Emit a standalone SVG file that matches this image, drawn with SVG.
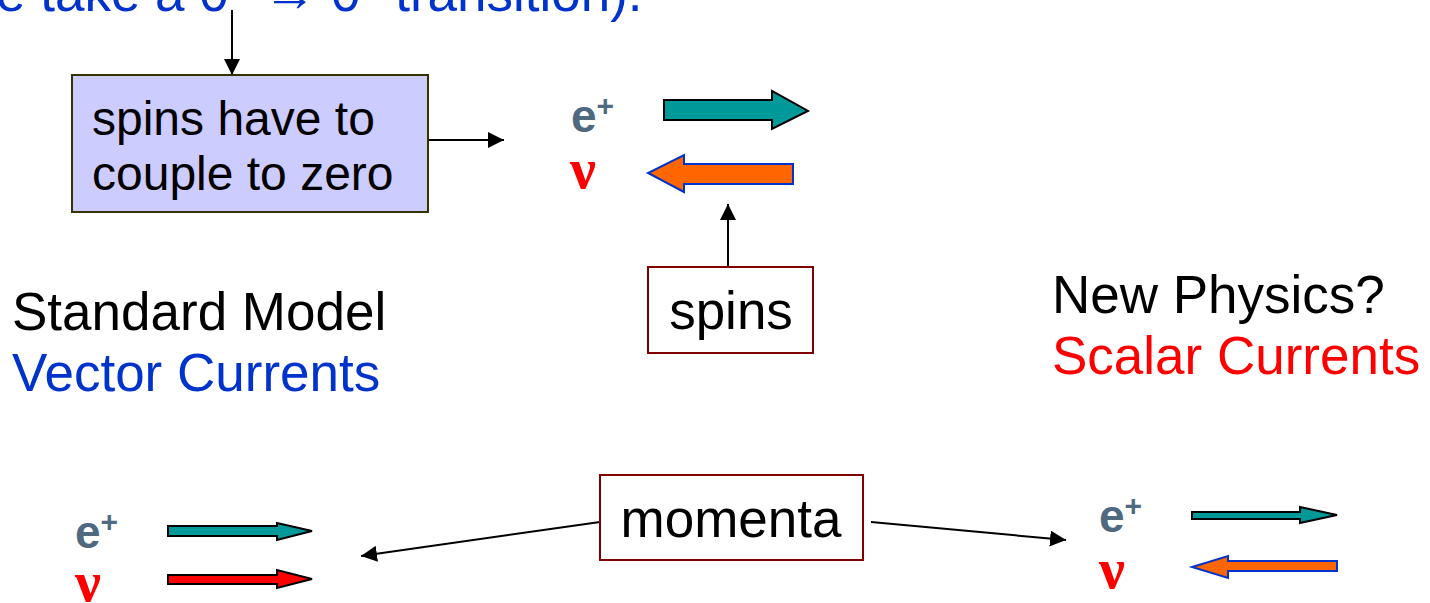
<svg xmlns="http://www.w3.org/2000/svg" width="1430" height="603" viewBox="0 0 1430 603">
<defs>
<style>
.box{font-family:"Liberation Sans",Arial,sans-serif;font-size:48px;fill:#000;}
.big{font-family:"Liberation Sans",Arial,sans-serif;font-size:53px;}
.ep{font-family:"Liberation Sans",Arial,sans-serif;font-weight:bold;fill:#4F6A7F;}
.nu{font-family:"Liberation Serif","Times New Roman",serif;font-weight:bold;fill:#FF0000;}
.conn{stroke:#000;stroke-width:2;fill:none;}
.teal{fill:#009999;stroke:#000;stroke-width:2;}
.orange{fill:#FF6600;stroke:#0033CC;stroke-width:2;}
.red{fill:#FF0000;stroke:#000;stroke-width:2;}
</style>
<marker id="ahb" viewBox="0 0 10 10" refX="10" refY="5" markerWidth="16" markerHeight="16" markerUnits="userSpaceOnUse" orient="auto">
<path d="M0,0 L10,5 L0,10 Z" fill="#000"/>
</marker>
</defs>

<text class="big" x="-4" y="11" fill="#0033CC">e take a 0<tspan dy="-22" font-size="34">+</tspan><tspan dy="22"> → 0</tspan><tspan dy="-22" font-size="34">+</tspan><tspan dy="22"> transition).</tspan></text>

<g id="connectors">
<line class="conn" x1="232" y1="10" x2="232" y2="75" marker-end="url(#ahb)"/>
<line class="conn" x1="425" y1="140" x2="504" y2="140" marker-end="url(#ahb)"/>
<line class="conn" x1="728" y1="267" x2="728" y2="204" marker-end="url(#ahb)"/>
<line class="conn" x1="600" y1="522" x2="361" y2="556" marker-end="url(#ahb)"/>
<line class="conn" x1="871" y1="522" x2="1066" y2="540" marker-end="url(#ahb)"/>
</g>

<g id="node-couple">
<rect x="72" y="75" width="356" height="137" fill="#CCCCFF" stroke="#333300" stroke-width="2"/>
<text class="box" x="92" y="135">spins have to</text>
<text class="box" x="92" y="190">couple to zero</text>
</g>

<g id="node-spins">
<rect x="648" y="267" width="165" height="86" fill="#FFFFFF" stroke="#800000" stroke-width="2"/>
<text class="big" x="731" y="329" text-anchor="middle" fill="#000">spins</text>
</g>

<g id="node-momenta">
<rect x="600" y="475" width="263" height="85" fill="#FFFFFF" stroke="#800000" stroke-width="2"/>
<text class="big" x="731" y="537" text-anchor="middle" fill="#000">momenta</text>
</g>

<g id="label-sm">
<text class="big" x="12" y="330" fill="#000">Standard Model</text>
<text class="big" x="12" y="391" fill="#0033CC">Vector Currents</text>
</g>

<g id="label-np">
<text class="big" x="1052" y="313" fill="#000">New Physics?</text>
<text class="big" x="1052" y="374" fill="#FF0000">Scalar Currents</text>
</g>

<g id="top-particles">
<text class="ep" x="571" y="132" font-size="46">e<tspan dy="-16" font-size="30">+</tspan></text>
<text class="nu" x="570" y="188" font-size="58">ν</text>
<path class="teal" d="M664,100 L772,100 L772,91 L808,111 L772,129 L772,120 L664,120 Z"/>
<path class="orange" d="M793,164 L684,164 L684,155 L648,173 L684,192 L684,184 L793,184 Z"/>
</g>

<g id="bottom-left-particles">
<text class="ep" x="75" y="548" font-size="46">e<tspan dy="-16" font-size="30">+</tspan></text>
<text class="nu" x="75" y="601" font-size="58">ν</text>
<path class="teal" d="M168,526 L277,526 L277,523 L312,531 L277,540 L277,536 L168,536 Z"/>
<path class="red" d="M168,575 L277,575 L277,570 L312,579 L277,588 L277,584 L168,584 Z"/>
</g>

<g id="bottom-right-particles">
<text class="ep" x="1099" y="532" font-size="46">e<tspan dy="-16" font-size="30">+</tspan></text>
<text class="nu" x="1099" y="588" font-size="58">ν</text>
<path class="teal" d="M1192,512 L1300,512 L1300,507 L1337,515 L1300,523 L1300,519 L1192,519 Z"/>
<path class="orange" d="M1337,561 L1228,561 L1228,556 L1192,567 L1228,578 L1228,571 L1337,571 Z"/>
</g>
</svg>
